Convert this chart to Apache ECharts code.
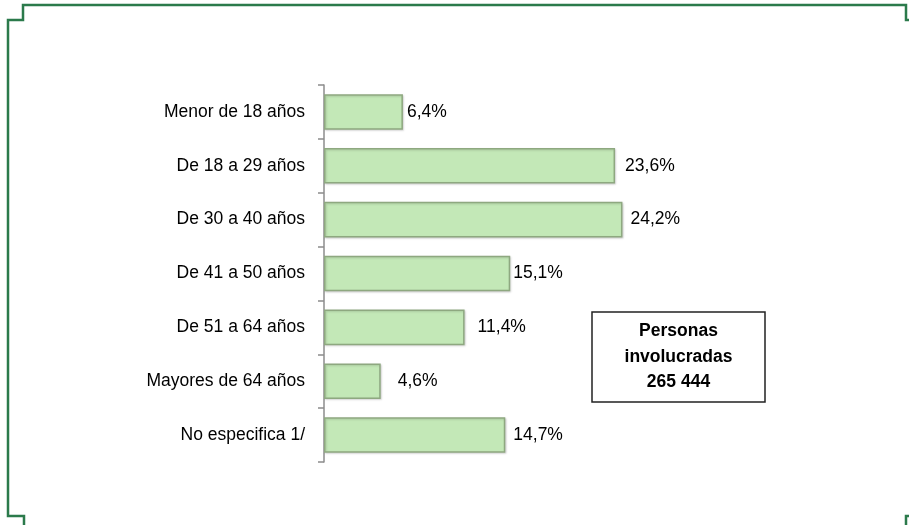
<!DOCTYPE html>
<html>
<head>
<meta charset="utf-8">
<title>Personas involucradas por edad</title>
<script src="https://cdn.jsdelivr.net/npm/echarts@6/dist/echarts.min.js"></script>
<style>
  html, body { margin: 0; padding: 0; background: #fff; }
  #chart { width: 909px; height: 525px; }
</style>
</head>
<body>
<div id="chart"></div>
<script>
// categorias (de arriba hacia abajo)
var categories = [
  "Menor de 18 años",
  "De 18 a 29 años",
  "De 30 a 40 años",
  "De 41 a 50 años",
  "De 51 a 64 años",
  "Mayores de 64 años",
  "No especifica 1/"
];
// porcentaje de personas
var values = [6.4, 23.6, 24.2, 15.1, 11.4, 4.6, 14.7];
// separacion de cada etiqueta respecto a su barra (como en el original)
var labelGaps = [4, 10, 8, 3, 13, 17, 8];
var boxLines = ["Personas", "involucradas", "265 444"];

var frameColor = "#2b7a4b";
var font = "'Liberation Sans', Arial, sans-serif";

var chartDom = document.getElementById("chart");
var myChart = echarts.init(chartDom);
var option;

option = {
  animation: false,
  grid: { left: 324, top: 85, width: 370, height: 377 },
  xAxis: {
    type: "value",
    min: 0,
    max: 30,
    show: false,
  },
  yAxis: {
    type: "category",
    inverse: true,
    data: categories,
    axisLine: { show: true, lineStyle: { color: "#8c8c8c", width: 1.5 } },
    axisTick: { show: true, length: 6, lineStyle: { color: "#8c8c8c", width: 1.5 } },
    axisLabel: {
      color: "#000",
      fontSize: 17.5,
      fontFamily: font,
      margin: 19,
    },
  },
  series: [
    {
      type: "bar",
      barCategoryGap: "34%",
      data: values.map(function (v, i) {
        return { value: v, label: { distance: labelGaps[i] } };
      }),
      itemStyle: {
        color: "#c3e8b7",
        borderColor: "#8ea880",
        borderWidth: 1.5,
        shadowColor: "rgba(0,0,0,0.15)",
        shadowBlur: 2,
        shadowOffsetX: 1,
        shadowOffsetY: 1,
      },
      label: {
        show: true,
        position: "right",
        color: "#000",
        fontSize: 17.5,
        fontFamily: font,
        formatter: function (p) {
          return p.value.toFixed(1).replace(".", ",") + "%";
        },
      },
    },
  ],
  graphic: [
    {
      type: "polyline",
      shape: {
        points: [[912, 20], [906, 20], [906, 5], [23, 5], [23, 20], [8, 20],
                 [8, 516], [24, 516], [24, 530]],
      },
      style: { stroke: frameColor, lineWidth: 2.5, fill: null },
    },
    {
      type: "polyline",
      shape: { points: [[912, 516], [906, 516], [906, 530]] },
      style: { stroke: frameColor, lineWidth: 2.5, fill: null },
    },
    {
      type: "rect",
      shape: { x: 592, y: 312, width: 173, height: 90 },
      style: { fill: "#fff", stroke: "#222", lineWidth: 1.5 },
    },
    {
      type: "text",
      x: 678.5,
      y: 357,
      style: {
        text: boxLines.join("\n"),
        align: "center",
        verticalAlign: "middle",
        lineHeight: 25.5,
        fontSize: 17.5,
        fontWeight: "bold",
        fontFamily: font,
        fill: "#000",
      },
    },
  ],
};

option && myChart.setOption(option);
</script>
</body>
</html>
